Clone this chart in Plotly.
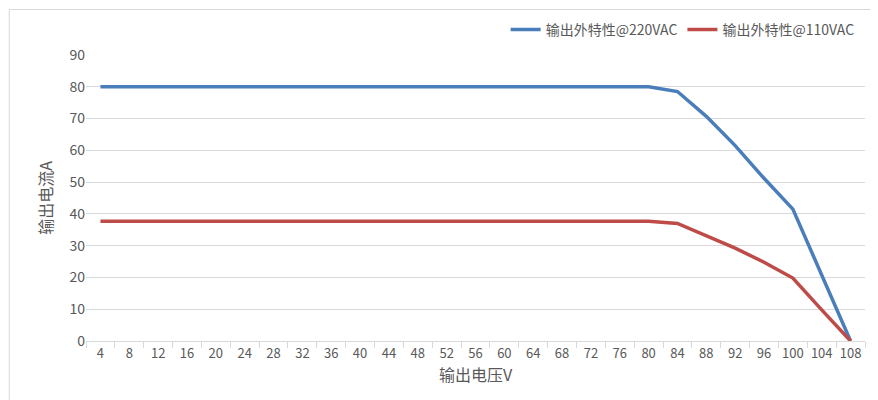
import plotly.graph_objects as go

voltage = [str(v) for v in range(4, 109, 4)]
current_220 = [80]*20 + [78.5, 70.7, 61.5, 51.2, 41.5, 20.8, 0]
current_110 = [37.7]*20 + [37, 33.2, 29.2, 24.8, 19.8, 9.8, 0]
y_ticks = list(range(0, 91, 10))

font = "Noto Sans CJK SC"
fig = go.Figure()
fig.add_trace(go.Scatter(x=voltage, y=current_220, mode="lines", name="输出外特性@220VAC",
                         line=dict(color="#4a7ebb", width=3.5)))
fig.add_trace(go.Scatter(x=voltage, y=current_110, mode="lines", name="输出外特性@110VAC",
                         line=dict(color="#be4b48", width=3.5)))
fig.update_layout(
    width=878, height=400, margin=dict(l=78, r=21, t=47, b=67, autoexpand=False),
    paper_bgcolor="white", plot_bgcolor="white",
    font=dict(family=font, size=14, color="#595959"),
    legend=dict(orientation="h", x=0.97, xanchor="right", xref="container",
                y=0.985, yanchor="top", yref="container",
                font=dict(size=14, color="#595959")),
    xaxis=dict(type="category", range=[-0.5, 26.5], automargin=False,
               title=dict(text="输出电压V", font=dict(size=16), standoff=8),
               showline=True, linecolor="#d9d9d9", ticks="outside", tickcolor="#d9d9d9",
               tickson="boundaries", ticklen=6, tickfont=dict(size=13), showgrid=False, tickangle=0),
    yaxis=dict(range=[0, 90], tickvals=y_ticks, automargin=False,
               title=dict(text="输出电流A", font=dict(size=16), standoff=12),
               showgrid=True, gridcolor="#d9d9d9", zeroline=False, tickfont=dict(size=14)),
    shapes=[dict(type="rect", xref="paper", yref="paper", x0=-0.0985, x1=1.0255, y0=-0.232, y1=1.159,
                 line=dict(color="#d9d9d9", width=1))],
)
fig.write_html("out.html")
